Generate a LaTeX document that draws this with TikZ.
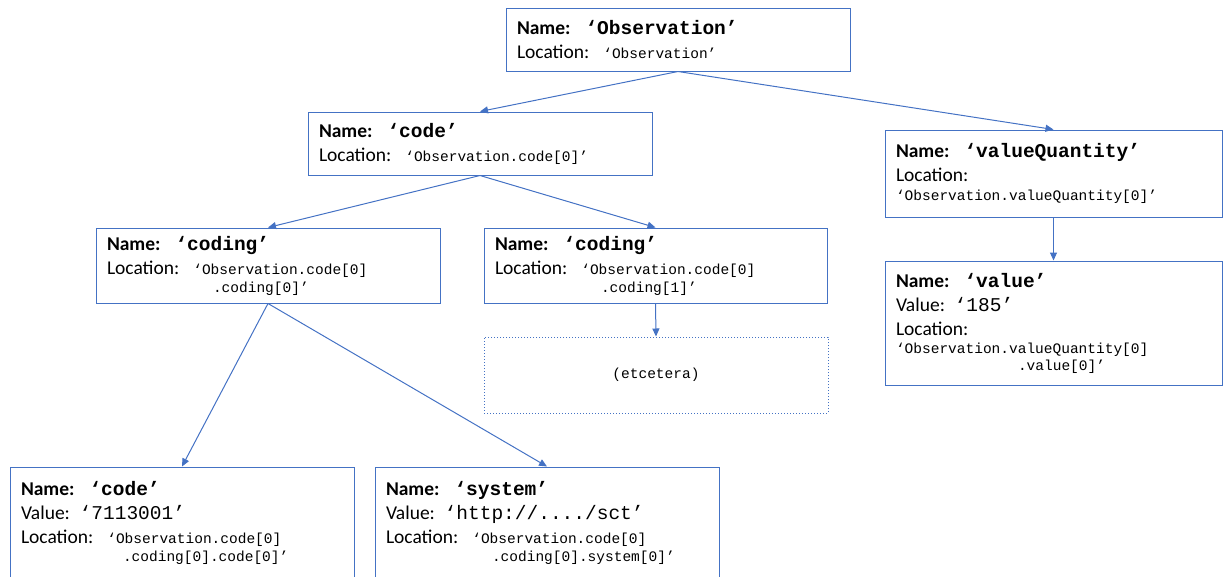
\documentclass[tikz,border=0pt]{standalone}
\usepackage{fontspec}
\setmainfont{Carlito}
\newfontfamily\codefont{Liberation Mono}
\usetikzlibrary{arrows.meta}
\definecolor{linkblue}{RGB}{68,114,196}
\newcommand{\nm}[1]{\textbf{Name:}\hspace{15pt}{\codefont\bfseries ‘#1’}}
\newcommand{\loc}[1]{{\fontsize{14.5}{18}\selectfont\codefont #1}}
\newcommand{\val}[1]{Value: {\codefont ‘#1’}}

\begin{document}
\begin{tikzpicture}[x=1pt,y=-1pt,font=\fontsize{19.5}{24}\selectfont,
    box/.style 2 args={draw=linkblue,line width=1pt,inner xsep=11pt,inner ysep=0pt,
      minimum width=#1,text width=#1-22pt,minimum height=#2,align=left},
    link/.style={linkblue,line width=1pt,-{Triangle[length=8pt,width=7pt]}}]
  \clip (0,0) rectangle (1223,576);
  % resource
  \node[box={344pt}{63pt}] (obs) at (678,39.5)
    {\nm{Observation}\\ Location:\hspace{14pt}\loc{‘Observation’}};
  % first level
  \node[box={344pt}{63pt}] (code) at (480,143.5)
    {\nm{code}\\ Location:\hspace{14pt}\loc{‘Observation.code[0]’}};
  \node[box={337pt}{87pt}] (vq) at (1053.5,173.5)
    {\nm{valueQuantity}\\ Location:\\[-5pt] \loc{‘Observation.valueQuantity[0]’}};
  % codings
  \node[box={344pt}{75pt}] (coding0) at (268,265.5)
    {\nm{coding}\\ Location:\hspace{14pt}\loc{‘Observation.code[0]}\\[-6pt]
     \hspace{106pt}\loc{.coding[0]’}};
  \node[box={343pt}{75pt}] (coding1) at (655.5,265.5)
    {\nm{coding}\\ Location:\hspace{14pt}\loc{‘Observation.code[0]}\\[-6pt]
     \hspace{106pt}\loc{.coding[1]’}};
  \node[box={344pt}{76pt},dotted,align=center] (etc) at (656,375) {\loc{(etcetera)}};
  \node[box={337pt}{124pt}] (value) at (1053.5,323)
    {\nm{value}\\ \val{185}\\ Location:\\[-6pt] \loc{‘Observation.valueQuantity[0]}\\[-7pt]
     \hspace{122pt}\loc{.value[0]’}};
  % leaves
  \node[box={344pt}{112pt}] (leafcode) at (182,523)
    {\nm{code}\\ \val{7113001}\\ Location:\hspace{14pt}\loc{‘Observation.code[0]}\\[-6pt]
     \hspace{102pt}\loc{.coding[0].code[0]’}};
  \node[box={344pt}{112pt}] (system) at (547,523)
    {\nm{system}\\ \val{http://..../sct}\\ Location:\hspace{14pt}\loc{‘Observation.code[0]}\\[-6pt]
     \hspace{106pt}\loc{.coding[0].system[0]’}};

  \draw[link] (obs.south) -- (code.north);
  \draw[link] (obs.south) -- (vq.north);
  \draw[link] (code.south) -- (coding0.north);
  \draw[link] (code.south) -- (coding1.north);
  \draw[link] (vq.south) -- (value.north);
  \draw[link] (coding1.south) -- (etc.north);
  \draw[link] (coding0.south) -- (leafcode.north);
  \draw[link] (coding0.south) -- (system.north);
\end{tikzpicture}
\end{document}
